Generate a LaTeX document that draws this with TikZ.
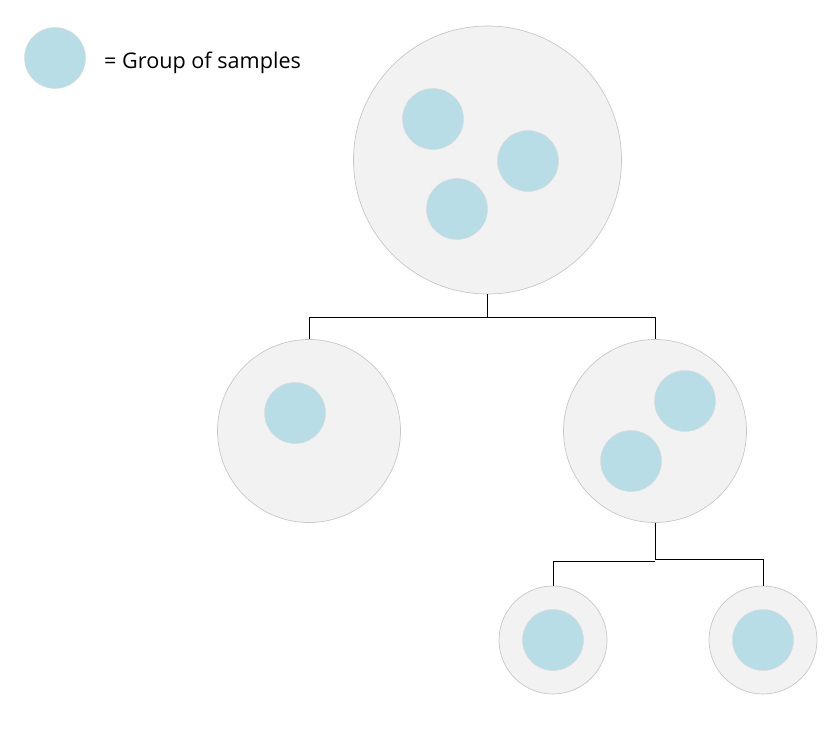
\documentclass[tikz,border=0pt]{standalone}
\usepackage{fontspec}
\setmainfont{Open Sans}
\begin{document}
\begin{tikzpicture}[x=1pt,y=-1pt,
  group/.style={circle,draw=black!22,line width=0.7pt,fill=black!5,inner sep=0pt,minimum size=#1},
  sample/.style={circle,draw=black!14,line width=0.5pt,fill=sampleblue,inner sep=0pt,minimum size=61pt},
  link/.style={draw=black,line width=0.9pt}]
\definecolor{sampleblue}{HTML}{B8DDE7}
\useasboundingbox (0,0) rectangle (835,730);
% legend
\node[sample] (leg) at (55,58) {};
\node[anchor=base west,inner sep=0pt,font=\fontsize{21.6}{26}\selectfont] (legtext) at (104,68.7) {= Group of samples};
% root
\node[group=268pt] (root) at (487.5,160) {};
\node[sample] (r1) at (433,119) {};
\node[sample] (r2) at (528,161) {};
\node[sample] (r3) at (457,209) {};
% middle
\node[group=183pt] (ml) at (309,431) {};
\node[sample] (ml1) at (295,413) {};
\node[group=183pt] (mr) at (655,431) {};
\node[sample] (mr1) at (685,401) {};
\node[sample] (mr2) at (631,461) {};
% bottom
\node[group=108pt] (bl) at (553,640) {};
\node[sample] (bl1) at (553,640) {};
\node[group=108pt] (br) at (763,640) {};
\node[sample] (br1) at (763,640) {};
% connectors
\draw[link] (root.south) -- ++(0,23.3) coordinate (j1) -| (ml.north);
\draw[link] (j1) -| (mr.north);
\draw[link] (mr.south) -- ++(0,37) coordinate (j2);
\draw[link] ([yshift=-1.3pt]j2) -| (bl.north);
\draw[link] (j2) -| (br.north);
\end{tikzpicture}
\end{document}
